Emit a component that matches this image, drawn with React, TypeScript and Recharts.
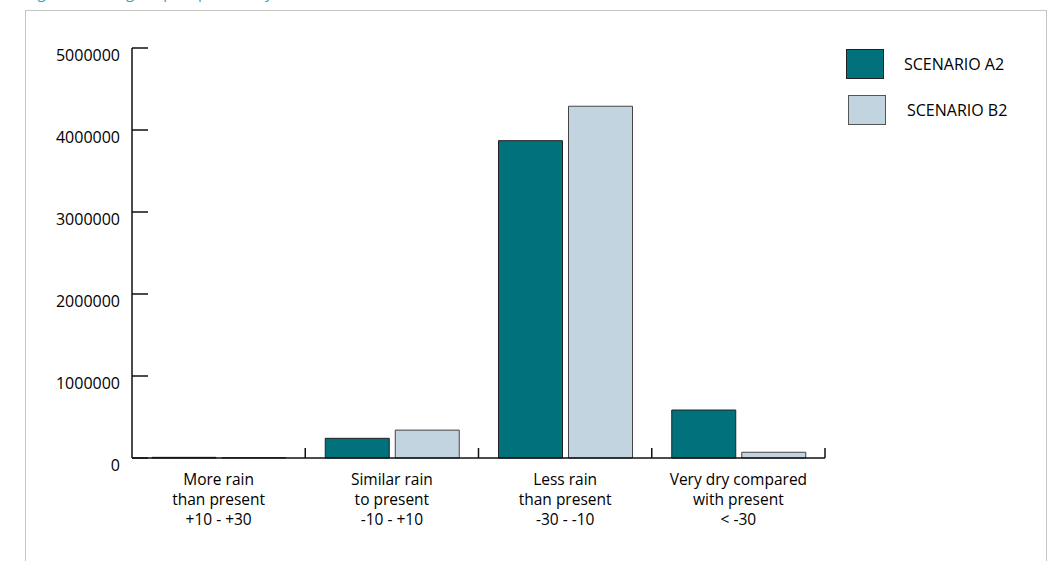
import React from 'react';
import { BarChart, Bar, XAxis, YAxis } from 'recharts';

const categories = ['More rain', 'Similar rain', 'Less rain', 'Very dry compared'];
const categoryLines = [
  ['More rain', 'than present', '+10 - +30'],
  ['Similar rain', 'to present', '-10 - +10'],
  ['Less rain', 'than present', '-30 - -10'],
  ['Very dry compared', 'with present', '< -30'],
];
const scenarioA2 = [8000, 240000, 3870000, 585000];
const scenarioB2 = [6000, 340000, 4290000, 70000];
const yTicks = [0, 1000000, 2000000, 3000000, 4000000, 5000000];

const data = categories.map((c, i) => ({
  name: c,
  a2: scenarioA2[i],
  b2: scenarioB2[i],
}));

const W = 1051;
const H = 561;
const margin = { top: 48, right: 226, bottom: 23, left: 52 };
const Y_AXIS_W = 80;
const X_AXIS_H = 80;
const plotW = W - margin.left - margin.right - Y_AXIS_W;
const band = plotW / categories.length;

const FONT = '"Open Sans", sans-serif';
const FS = 16;
const A2_FILL = '#01727C';
const B2_FILL = '#C1D4DF';

const YTick = (props: any) => {
  const { x, y, payload } = props;
  return (
    <g>
      <line x1={x + 12} x2={x + 28} y1={y} y2={y} stroke="#111" strokeWidth={1.5} />
      <text x={x} y={y + 7} textAnchor="end" dominantBaseline="central" fontFamily={FONT} fontSize={FS} fill="#000">
        {payload.value}
      </text>
    </g>
  );
};

const XTick = (props: any) => {
  const { x, y, index } = props;
  const lines = categoryLines[index] || [];
  return (
    <g>
      <line x1={x + band / 2} x2={x + band / 2} y1={y} y2={y - 10} stroke="#111" strokeWidth={1.5} />
      <text textAnchor="middle" fontFamily={FONT} fontSize={15.5} fill="#000">
        {lines.map((l, i) => (
          <tspan key={i} x={x} y={y + 27 + i * 20}>
            {l}
          </tspan>
        ))}
      </text>
    </g>
  );
};

const LegendBox = () => (
  <div style={{ position: 'absolute', left: 846, top: 49, fontFamily: FONT, fontSize: FS, color: '#000' }}>
    <div style={{ display: 'flex', alignItems: 'center', height: 29 }}>
      <div style={{ width: 36, height: 28, background: A2_FILL, border: '1px solid #222' }} />
      <span style={{ marginLeft: 20 }}>SCENARIO A2</span>
    </div>
    <div style={{ display: 'flex', alignItems: 'center', height: 29, marginTop: 17, marginLeft: 2 }}>
      <div style={{ width: 36, height: 28, background: B2_FILL, border: '1px solid #555' }} />
      <span style={{ marginLeft: 21 }}>SCENARIO B2</span>
    </div>
  </div>
);

export default function App() {
  return (
    <div style={{ position: 'absolute', left: 0, top: 0, width: W, height: H, overflow: 'hidden', background: '#fff' }}>
      <div
        style={{
          position: 'absolute',
          left: 26,
          top: -18,
          fontFamily: FONT,
          fontSize: 15,
          lineHeight: '20px',
          color: '#2AA8B8',
          whiteSpace: 'nowrap',
        }}
      >
        Figure 3: Change in precipitation by 2050
      </div>
      <div
        style={{
          position: 'absolute',
          left: 25,
          top: 10,
          width: 1020,
          height: 560,
          borderLeft: '1.5px solid #c6c6c6',
          borderTop: '1.5px solid #c6c6c6',
          borderRight: '1.5px solid #c6c6c6',
        }}
      />
      <div style={{ position: 'absolute', left: 0, top: 0 }}>
        <BarChart width={W} height={H} data={data} margin={margin} barSize={64} barGap={6}>
          <XAxis
            dataKey="name"
            height={X_AXIS_H}
            tick={<XTick />}
            tickLine={false}
            tickSize={0}
            tickMargin={0}
            interval={0}
            axisLine={{ stroke: '#111', strokeWidth: 1.5 }}
          />
          <YAxis
            width={Y_AXIS_W}
            domain={[0, 5000000]}
            ticks={yTicks}
            interval={0}
            tick={<YTick />}
            tickLine={false}
            tickSize={0}
            tickMargin={12}
            axisLine={{ stroke: '#111', strokeWidth: 1.5 }}
          />
          <Bar dataKey="a2" name="SCENARIO A2" fill={A2_FILL} stroke="#222" strokeWidth={1} isAnimationActive={false} />
          <Bar dataKey="b2" name="SCENARIO B2" fill={B2_FILL} stroke="#444" strokeWidth={1} isAnimationActive={false} />
        </BarChart>
      </div>
      <LegendBox />
    </div>
  );
}
